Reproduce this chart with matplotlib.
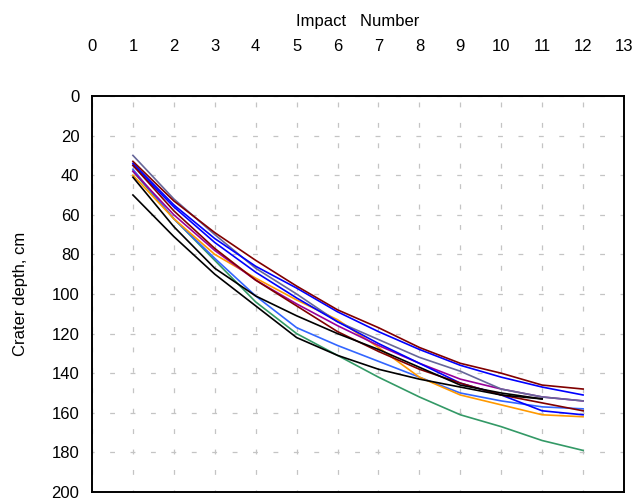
import matplotlib
matplotlib.use("Agg")
import matplotlib.pyplot as plt

plt.rcParams['font.family'] = ['Liberation Sans', 'DejaVu Sans']
plt.rcParams['lines.scale_dashes'] = False

impacts_12 = list(range(1, 13))
impacts_11 = list(range(1, 12))

dark_red_1 = [33, 53, 69, 83, 96, 108, 117, 127, 135, 140, 146, 148]
blue_1 = [34, 55, 72, 86, 97, 109, 119, 128, 136, 142, 147, 151]
slate = [30, 52, 70, 87, 100, 114, 123, 132, 139, 148, 152, 154]
purple = [38, 60, 78, 93, 105, 116, 126, 135, 143, 148, 152, 154]
dark_red_2 = [35, 58, 77, 93, 106, 119, 129, 138, 145, 151, 155, 159]
blue_2 = [35, 56, 74, 89, 102, 114, 125, 135, 145, 151, 159, 161]
orange = [40, 62, 80, 92, 103, 113, 127, 142, 151, 156, 161, 162]
cornflower = [37, 62, 82, 101, 117, 126, 134, 142, 150, 154, 157, 158]
green = [38, 62, 83, 104, 120, 131, 142, 152, 161, 167, 174, 179]
black_a = [50, 71, 90, 106, 122, 131, 138, 143, 147, 151, 153]
black_b = [41, 66, 87, 101, 111, 120, 128, 137, 146, 150, 153]

series = [
    (impacts_12, green, '#339966'),
    (impacts_12, cornflower, '#3366ff'),
    (impacts_12, orange, '#ff9900'),
    (impacts_12, purple, '#990099'),
    (impacts_12, slate, '#666699'),
    (impacts_12, blue_2, '#0000ff'),
    (impacts_12, blue_1, '#0000ff'),
    (impacts_12, dark_red_2, '#800000'),
    (impacts_12, dark_red_1, '#800000'),
    (impacts_11, black_a, '#000000'),
    (impacts_11, black_b, '#000000'),
]

x_ticks = list(range(0, 14))
y_ticks = list(range(0, 201, 20))

fig = plt.figure(figsize=(6.33, 5.03), dpi=100)
ax = fig.add_axes([92/633, 1-492/503, (624-92)/633, (492-96)/503])

for xs, ys, c in series:
    ax.plot(xs, ys, color=c, lw=1.2)

ax.set_xlim(0, 13)
ax.set_ylim(200, 0)
ax.set_xticks(x_ticks)
ax.set_yticks(y_ticks)
ax.xaxis.tick_top()
ax.xaxis.set_label_position('top')
ax.tick_params(axis='x', length=0, pad=30.5, labelsize=12)
ax.tick_params(axis='y', length=0, pad=9, labelsize=12)
ax.set_xlabel('Impact   Number', fontsize=12, labelpad=9)
ax.set_ylabel('Crater depth, cm', fontsize=12, labelpad=17)

ax.grid(True, color='#c4c4c4', lw=0.9, linestyle=(2.0, (3.5, 11.2)))
for s in ax.spines.values():
    s.set_linewidth(1.4)
    s.set_color('black')

fig.savefig('out.png', dpi=100)
